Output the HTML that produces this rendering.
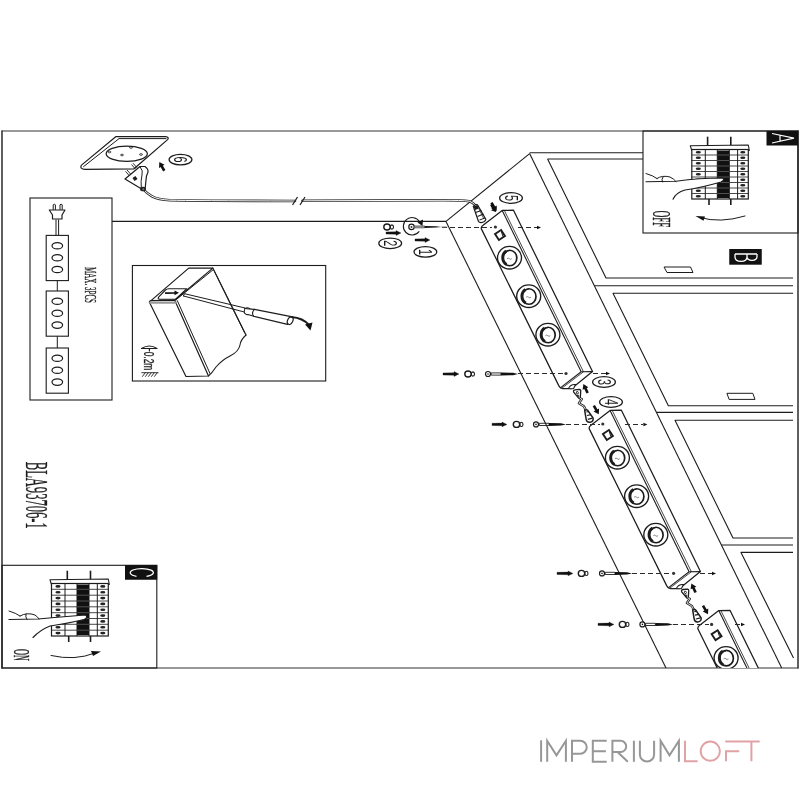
<!DOCTYPE html>
<html><head><meta charset="utf-8"><title>Installation diagram</title>
<style>
html,body{margin:0;padding:0;background:#fff;}
body{width:800px;height:800px;overflow:hidden;font-family:"Liberation Sans",sans-serif;}
svg{display:block;will-change:transform;}
</style></head>
<body>
<svg width="800" height="800" viewBox="0 0 800 800">
<defs><clipPath id="clipf"><rect x="0" y="0" width="800" height="668"/></clipPath></defs>
<rect x="0" y="0" width="800" height="800" fill="#fff"/>
<line x1="1.5" y1="131.0" x2="798.5" y2="131.0" stroke="#777" stroke-width="1.3" />
<line x1="1.5" y1="668.0" x2="798.5" y2="668.0" stroke="#777" stroke-width="1.3" />
<line x1="2.0" y1="130.5" x2="2.0" y2="668.5" stroke="#444" stroke-width="1.7" />
<line x1="798.0" y1="130.5" x2="798.0" y2="668.5" stroke="#444" stroke-width="1.7" />
<line x1="112.0" y1="221.4" x2="446.0" y2="221.4" stroke="#1c1c1c" stroke-width="1.1" />
<line x1="446.0" y1="221.4" x2="529.6" y2="153.6" stroke="#1c1c1c" stroke-width="1.1" />
<line x1="446.0" y1="221.4" x2="666.0" y2="668.0" stroke="#1c1c1c" stroke-width="1.1" />
<line x1="529.6" y1="153.6" x2="781.7" y2="668.0" stroke="#1c1c1c" stroke-width="1.1" />
<line x1="529.6" y1="152.8" x2="643.0" y2="152.8" stroke="#1c1c1c" stroke-width="1.1" />
<line x1="547.6" y1="159.0" x2="643.0" y2="159.0" stroke="#1c1c1c" stroke-width="1.1" />
<polyline points="547.6,159.0 606.0,278.0 793.0,278.0" stroke="#1c1c1c" stroke-width="1.1" fill="none" stroke-linejoin="round" />
<line x1="594.4" y1="285.8" x2="793.0" y2="285.8" stroke="#1c1c1c" stroke-width="1.1" />
<polyline points="793.0,293.2 613.0,293.2 668.4,405.7 793.0,405.7" stroke="#1c1c1c" stroke-width="1.1" fill="none" stroke-linejoin="round" />
<line x1="656.4" y1="412.4" x2="793.0" y2="412.4" stroke="#1c1c1c" stroke-width="1.1" />
<polyline points="793.0,420.3 675.0,420.3 733.0,538.0 793.0,538.0" stroke="#1c1c1c" stroke-width="1.1" fill="none" stroke-linejoin="round" />
<line x1="721.4" y1="545.0" x2="793.0" y2="545.0" stroke="#1c1c1c" stroke-width="1.1" />
<polyline points="793.0,552.4 741.0,552.4 793.5,658.0" stroke="#1c1c1c" stroke-width="1.1" fill="none" stroke-linejoin="round" />
<polygon points="664.0,267.0 690.5,267.0 693.0,272.5 667.0,272.5" stroke="#1c1c1c" stroke-width="1.0" fill="none" stroke-linejoin="round" />
<polygon points="726.9,393.3 752.8,393.3 755.0,399.4 729.1,399.4" stroke="#1c1c1c" stroke-width="1.0" fill="none" stroke-linejoin="round" />
<g>
<polygon points="481.0,226.7 502.2,210.4 513.5,210.2 592.5,371.6 571.3,387.9 560.0,388.1" stroke="none" stroke-width="0" fill="#fff" stroke-linejoin="round" />
<path d="M502.2,210.4 L483.4,224.9 Q480.4,227.0 481.5,229.1 L559.0,386.1 Q560.0,388.6 562.5,388.7 L571.3,388.7 L592.5,371.6 L513.5,210.2 L502.2,210.4" stroke="#1c1c1c" stroke-width="1.25" fill="none" stroke-linejoin="round" stroke-linecap="round" />
<line x1="581.2" y1="371.8" x2="592.5" y2="371.6" stroke="#1c1c1c" stroke-width="1.1" />
<line x1="502.2" y1="210.4" x2="581.2" y2="371.8" stroke="#1c1c1c" stroke-width="1.1" />
<line x1="560.0" y1="388.1" x2="581.2" y2="371.8" stroke="#1c1c1c" stroke-width="1.1" />
<line x1="504.5" y1="210.8" x2="583.5" y2="371.8" stroke="#1c1c1c" stroke-width="0.8" />
<line x1="561.6" y1="388.4" x2="583.5" y2="371.8" stroke="#1c1c1c" stroke-width="0.8" />
<path d="M568.5,388.5 Q570.5,384.0 575.5,384.5 L573.5,388.7 Z" fill="#fff" stroke="#1c1c1c" stroke-width="1.1"/>
<rect x="496.4" y="231.4" width="7.2" height="7.2" fill="#fff" stroke="#1c1c1c" stroke-width="1.9" transform="rotate(-33 500.0 235.0)"/>
<line x1="501.5" y1="232.0" x2="503.0" y2="236.5" stroke="#1c1c1c" stroke-width="1"/>
<ellipse cx="509.5" cy="257.7" rx="12" ry="11.3" fill="#fff" stroke="#1c1c1c" stroke-width="1.35"/>
<ellipse cx="509.8" cy="258.0" rx="7.0" ry="7.75" fill="none" stroke="#1c1c1c" stroke-width="1.7"/>
<path d="M506.5,264.5 A7,7.75 0 0 1 506.3,250.9" fill="none" stroke="#1c1c1c" stroke-width="3.0"/>
<path d="M505.0,253.2 q2,-3 4.5,-2.5" fill="none" stroke="#1c1c1c" stroke-width="1.2"/>
<path d="M507.0,258.7 q1.2,-1.2 2.4,0 q1.2,1.2 2.4,0" fill="none" stroke="#666" stroke-width="0.8"/>
<ellipse cx="528.7" cy="296.2" rx="12" ry="11.3" fill="#fff" stroke="#1c1c1c" stroke-width="1.35"/>
<ellipse cx="529.0" cy="296.5" rx="7.0" ry="7.75" fill="none" stroke="#1c1c1c" stroke-width="1.7"/>
<path d="M525.7,303.0 A7,7.75 0 0 1 525.5,289.4" fill="none" stroke="#1c1c1c" stroke-width="3.0"/>
<path d="M524.2,291.7 q2,-3 4.5,-2.5" fill="none" stroke="#1c1c1c" stroke-width="1.2"/>
<path d="M526.2,297.2 q1.2,-1.2 2.4,0 q1.2,1.2 2.4,0" fill="none" stroke="#666" stroke-width="0.8"/>
<ellipse cx="547.9" cy="334.7" rx="12" ry="11.3" fill="#fff" stroke="#1c1c1c" stroke-width="1.35"/>
<ellipse cx="548.2" cy="335.0" rx="7.0" ry="7.75" fill="none" stroke="#1c1c1c" stroke-width="1.7"/>
<path d="M544.9,341.5 A7,7.75 0 0 1 544.7,327.9" fill="none" stroke="#1c1c1c" stroke-width="3.0"/>
<path d="M543.4,330.2 q2,-3 4.5,-2.5" fill="none" stroke="#1c1c1c" stroke-width="1.2"/>
<path d="M545.4,335.7 q1.2,-1.2 2.4,0 q1.2,1.2 2.4,0" fill="none" stroke="#666" stroke-width="0.8"/>
</g>
<g>
<polygon points="588.9,426.7 610.1,410.4 621.4,410.2 700.4,571.6 679.2,587.9 667.9,588.1" stroke="none" stroke-width="0" fill="#fff" stroke-linejoin="round" />
<path d="M610.1,410.4 L591.3,424.9 Q588.3,427.0 589.4,429.1 L666.9,586.1 Q667.9,588.6 670.4,588.7 L679.2,588.7 L700.4,571.6 L621.4,410.2 L610.1,410.4" stroke="#1c1c1c" stroke-width="1.25" fill="none" stroke-linejoin="round" stroke-linecap="round" />
<line x1="689.1" y1="571.8" x2="700.4" y2="571.6" stroke="#1c1c1c" stroke-width="1.1" />
<line x1="610.1" y1="410.4" x2="689.1" y2="571.8" stroke="#1c1c1c" stroke-width="1.1" />
<line x1="667.9" y1="588.1" x2="689.1" y2="571.8" stroke="#1c1c1c" stroke-width="1.1" />
<line x1="612.4" y1="410.8" x2="691.4" y2="571.8" stroke="#1c1c1c" stroke-width="0.8" />
<line x1="669.5" y1="588.4" x2="691.4" y2="571.8" stroke="#1c1c1c" stroke-width="0.8" />
<path d="M676.4,588.5 Q678.4,584.0 683.4,584.5 L681.4,588.7 Z" fill="#fff" stroke="#1c1c1c" stroke-width="1.1"/>
<rect x="604.3" y="431.4" width="7.2" height="7.2" fill="#fff" stroke="#1c1c1c" stroke-width="1.9" transform="rotate(-33 607.9 435.0)"/>
<line x1="609.4" y1="432.0" x2="610.9" y2="436.5" stroke="#1c1c1c" stroke-width="1"/>
<ellipse cx="617.4" cy="457.7" rx="12" ry="11.3" fill="#fff" stroke="#1c1c1c" stroke-width="1.35"/>
<ellipse cx="617.7" cy="458.0" rx="7.0" ry="7.75" fill="none" stroke="#1c1c1c" stroke-width="1.7"/>
<path d="M614.4,464.5 A7,7.75 0 0 1 614.2,450.9" fill="none" stroke="#1c1c1c" stroke-width="3.0"/>
<path d="M612.9,453.2 q2,-3 4.5,-2.5" fill="none" stroke="#1c1c1c" stroke-width="1.2"/>
<path d="M614.9,458.7 q1.2,-1.2 2.4,0 q1.2,1.2 2.4,0" fill="none" stroke="#666" stroke-width="0.8"/>
<ellipse cx="636.6" cy="496.2" rx="12" ry="11.3" fill="#fff" stroke="#1c1c1c" stroke-width="1.35"/>
<ellipse cx="636.9" cy="496.5" rx="7.0" ry="7.75" fill="none" stroke="#1c1c1c" stroke-width="1.7"/>
<path d="M633.6,503.0 A7,7.75 0 0 1 633.4,489.4" fill="none" stroke="#1c1c1c" stroke-width="3.0"/>
<path d="M632.1,491.7 q2,-3 4.5,-2.5" fill="none" stroke="#1c1c1c" stroke-width="1.2"/>
<path d="M634.1,497.2 q1.2,-1.2 2.4,0 q1.2,1.2 2.4,0" fill="none" stroke="#666" stroke-width="0.8"/>
<ellipse cx="655.8" cy="534.7" rx="12" ry="11.3" fill="#fff" stroke="#1c1c1c" stroke-width="1.35"/>
<ellipse cx="656.1" cy="535.0" rx="7.0" ry="7.75" fill="none" stroke="#1c1c1c" stroke-width="1.7"/>
<path d="M652.8,541.5 A7,7.75 0 0 1 652.6,527.9" fill="none" stroke="#1c1c1c" stroke-width="3.0"/>
<path d="M651.3,530.2 q2,-3 4.5,-2.5" fill="none" stroke="#1c1c1c" stroke-width="1.2"/>
<path d="M653.3,535.7 q1.2,-1.2 2.4,0 q1.2,1.2 2.4,0" fill="none" stroke="#666" stroke-width="0.8"/>
</g>
<g clip-path="url(#clipf)">
<polygon points="697.6,626.9 718.8,610.6 730.1,610.4 809.1,771.8 787.9,788.1 776.6,788.3" stroke="none" stroke-width="0" fill="#fff" stroke-linejoin="round" />
<path d="M718.8,610.6 L700.0,625.1 Q697.0,627.2 698.1,629.3 L775.6,786.3 Q776.6,788.8 779.1,788.9 L787.9,788.9 L809.1,771.8 L730.1,610.4 L718.8,610.6" stroke="#1c1c1c" stroke-width="1.25" fill="none" stroke-linejoin="round" stroke-linecap="round" />
<line x1="797.8" y1="772.0" x2="809.1" y2="771.8" stroke="#1c1c1c" stroke-width="1.1" />
<line x1="718.8" y1="610.6" x2="797.8" y2="772.0" stroke="#1c1c1c" stroke-width="1.1" />
<line x1="776.6" y1="788.3" x2="797.8" y2="772.0" stroke="#1c1c1c" stroke-width="1.1" />
<line x1="721.1" y1="611.0" x2="800.1" y2="772.0" stroke="#1c1c1c" stroke-width="0.8" />
<line x1="778.2" y1="788.6" x2="800.1" y2="772.0" stroke="#1c1c1c" stroke-width="0.8" />
<path d="M785.1,788.7 Q787.1,784.2 792.1,784.7 L790.1,788.9 Z" fill="#fff" stroke="#1c1c1c" stroke-width="1.1"/>
<rect x="713.0" y="631.6" width="7.2" height="7.2" fill="#fff" stroke="#1c1c1c" stroke-width="1.9" transform="rotate(-33 716.6 635.2)"/>
<line x1="718.1" y1="632.2" x2="719.6" y2="636.7" stroke="#1c1c1c" stroke-width="1"/>
<ellipse cx="726.1" cy="657.9" rx="12" ry="11.3" fill="#fff" stroke="#1c1c1c" stroke-width="1.35"/>
<ellipse cx="726.4" cy="658.2" rx="7.0" ry="7.75" fill="none" stroke="#1c1c1c" stroke-width="1.7"/>
<path d="M723.1,664.7 A7,7.75 0 0 1 722.9,651.1" fill="none" stroke="#1c1c1c" stroke-width="3.0"/>
<path d="M721.6,653.4 q2,-3 4.5,-2.5" fill="none" stroke="#1c1c1c" stroke-width="1.2"/>
<path d="M723.6,658.9 q1.2,-1.2 2.4,0 q1.2,1.2 2.4,0" fill="none" stroke="#666" stroke-width="0.8"/>
<ellipse cx="745.3" cy="696.4" rx="12" ry="11.3" fill="#fff" stroke="#1c1c1c" stroke-width="1.35"/>
<ellipse cx="745.6" cy="696.7" rx="7.0" ry="7.75" fill="none" stroke="#1c1c1c" stroke-width="1.7"/>
<path d="M742.3,703.2 A7,7.75 0 0 1 742.1,689.6" fill="none" stroke="#1c1c1c" stroke-width="3.0"/>
<path d="M740.8,691.9 q2,-3 4.5,-2.5" fill="none" stroke="#1c1c1c" stroke-width="1.2"/>
<path d="M742.8,697.4 q1.2,-1.2 2.4,0 q1.2,1.2 2.4,0" fill="none" stroke="#666" stroke-width="0.8"/>
<ellipse cx="764.5" cy="734.9" rx="12" ry="11.3" fill="#fff" stroke="#1c1c1c" stroke-width="1.35"/>
<ellipse cx="764.8" cy="735.2" rx="7.0" ry="7.75" fill="none" stroke="#1c1c1c" stroke-width="1.7"/>
<path d="M761.5,741.7 A7,7.75 0 0 1 761.3,728.1" fill="none" stroke="#1c1c1c" stroke-width="3.0"/>
<path d="M760.0,730.4 q2,-3 4.5,-2.5" fill="none" stroke="#1c1c1c" stroke-width="1.2"/>
<path d="M762.0,735.9 q1.2,-1.2 2.4,0 q1.2,1.2 2.4,0" fill="none" stroke="#666" stroke-width="0.8"/>
</g>
<line x1="442.0" y1="227.5" x2="492.0" y2="227.5" stroke="#2a2a2a" stroke-width="1.0" stroke-dasharray="5,3"/>
<circle cx="495.4" cy="227.0" r="1.6" fill="#333"/>
<line x1="518.0" y1="227.5" x2="537.0" y2="227.5" stroke="#2a2a2a" stroke-width="1.0" stroke-dasharray="5,3"/>
<polygon points="541.0,227.5 537.0,225.8 537.0,229.2" stroke="none" stroke-width="0" fill="#111" stroke-linejoin="round" />
<circle cx="411.5" cy="226.9" r="2.7" fill="#fff" stroke="#1c1c1c" stroke-width="1.2"/>
<circle cx="411.5" cy="226.9" r="1.0" fill="#333"/>
<polygon points="414.6,225.9 424.6,225.9 424.6,227.9 414.6,227.9" stroke="#555" stroke-width="0.7" fill="#999" stroke-linejoin="round" />
<polygon points="424.6,225.9 436.0,226.2 441.5,226.9 436.0,227.6 424.6,227.9" stroke="none" stroke-width="0" fill="#111" stroke-linejoin="round" />
<line x1="441.5" y1="226.9" x2="447.5" y2="226.9" stroke="#888" stroke-width="0.9" />
<path d="M419,231.7 A8.75,8.75 0 1 1 419.6,221.8" stroke="#1c1c1c" stroke-width="1.1" fill="none" stroke-linejoin="round" stroke-linecap="round" />
<polygon points="422.5,226 423,219.5 417.5,222.5" fill="#111"/>
<ellipse cx="391.9" cy="227.0" rx="1.6" ry="2.1" fill="#fff" stroke="#1c1c1c" stroke-width="1.1"/>
<ellipse cx="387.0" cy="227.0" rx="3.2" ry="3.0" fill="#fff" stroke="#1c1c1c" stroke-width="1.4"/>
<polygon points="386.0,231.9 396.0,231.7 396.0,230.6 401.0,233.0 396.0,235.4 396.0,234.3 386.0,234.1" stroke="#111" stroke-width="0.3" fill="#111" stroke-linejoin="round" />
<polygon points="415.0,238.9 425.0,238.7 425.0,237.6 430.0,240.0 425.0,242.4 425.0,241.3 415.0,241.1" stroke="#111" stroke-width="0.3" fill="#111" stroke-linejoin="round" />
<line x1="518.0" y1="373.5" x2="564.0" y2="373.5" stroke="#2a2a2a" stroke-width="1.0" stroke-dasharray="5,3"/>
<circle cx="566.0" cy="373.5" r="1.6" fill="#333"/>
<line x1="593.0" y1="373.5" x2="606.0" y2="373.5" stroke="#2a2a2a" stroke-width="1.0" stroke-dasharray="5,3"/>
<polygon points="610.0,373.5 606.0,371.8 606.0,375.2" stroke="none" stroke-width="0" fill="#111" stroke-linejoin="round" />
<polygon points="443.0,372.9 454.0,372.7 454.0,371.6 459.0,374.0 454.0,376.4 454.0,375.3 443.0,375.1" stroke="#111" stroke-width="0.3" fill="#111" stroke-linejoin="round" />
<ellipse cx="472.9" cy="374.0" rx="1.6" ry="2.1" fill="#fff" stroke="#1c1c1c" stroke-width="1.1"/>
<ellipse cx="468.0" cy="374.0" rx="3.2" ry="3.0" fill="#fff" stroke="#1c1c1c" stroke-width="1.4"/>
<circle cx="488.0" cy="374.0" r="2.5" fill="#fff" stroke="#1c1c1c" stroke-width="1.2"/>
<circle cx="488.0" cy="374.0" r="0.8" fill="#1c1c1c"/>
<polygon points="491.2,372.9 501.0,372.9 501.0,375.1 491.2,375.1" stroke="#1c1c1c" stroke-width="0.9" fill="none" stroke-linejoin="round" />
<polygon points="501.0,372.5 513.0,372.8 518.0,374.0 513.0,375.2 501.0,375.5" stroke="none" stroke-width="0" fill="#111" stroke-linejoin="round" />
<line x1="566.0" y1="424.5" x2="600.0" y2="424.5" stroke="#2a2a2a" stroke-width="1.0" stroke-dasharray="5,3"/>
<circle cx="602.8" cy="424.0" r="1.6" fill="#333"/>
<line x1="625.0" y1="424.5" x2="643.0" y2="424.5" stroke="#2a2a2a" stroke-width="1.0" stroke-dasharray="5,3"/>
<polygon points="647.4,424.5 643.4,422.8 643.4,426.2" stroke="none" stroke-width="0" fill="#111" stroke-linejoin="round" />
<polygon points="492.0,423.3 502.0,423.1 502.0,422.0 507.0,424.4 502.0,426.8 502.0,425.7 492.0,425.5" stroke="#111" stroke-width="0.3" fill="#111" stroke-linejoin="round" />
<ellipse cx="521.4" cy="424.4" rx="1.6" ry="2.1" fill="#fff" stroke="#1c1c1c" stroke-width="1.1"/>
<ellipse cx="516.5" cy="424.4" rx="3.2" ry="3.0" fill="#fff" stroke="#1c1c1c" stroke-width="1.4"/>
<circle cx="536.0" cy="424.4" r="2.5" fill="#fff" stroke="#1c1c1c" stroke-width="1.2"/>
<circle cx="536.0" cy="424.4" r="0.8" fill="#1c1c1c"/>
<polygon points="539.2,423.3 549.0,423.3 549.0,425.5 539.2,425.5" stroke="#1c1c1c" stroke-width="0.9" fill="none" stroke-linejoin="round" />
<polygon points="549.0,422.9 561.0,423.2 566.0,424.4 561.0,425.6 549.0,425.9" stroke="none" stroke-width="0" fill="#111" stroke-linejoin="round" />
<line x1="632.0" y1="573.5" x2="671.0" y2="573.5" stroke="#2a2a2a" stroke-width="1.0" stroke-dasharray="5,3"/>
<circle cx="673.6" cy="573.3" r="1.6" fill="#333"/>
<line x1="700.0" y1="573.5" x2="712.0" y2="573.5" stroke="#2a2a2a" stroke-width="1.0" stroke-dasharray="5,3"/>
<polygon points="716.0,573.5 712.0,571.8 712.0,575.2" stroke="none" stroke-width="0" fill="#111" stroke-linejoin="round" />
<polygon points="557.0,572.3 568.0,572.1 568.0,571.0 573.0,573.4 568.0,575.8 568.0,574.7 557.0,574.5" stroke="#111" stroke-width="0.3" fill="#111" stroke-linejoin="round" />
<ellipse cx="586.4" cy="573.4" rx="1.6" ry="2.1" fill="#fff" stroke="#1c1c1c" stroke-width="1.1"/>
<ellipse cx="581.5" cy="573.4" rx="3.2" ry="3.0" fill="#fff" stroke="#1c1c1c" stroke-width="1.4"/>
<circle cx="602.0" cy="573.4" r="2.5" fill="#fff" stroke="#1c1c1c" stroke-width="1.2"/>
<circle cx="602.0" cy="573.4" r="0.8" fill="#1c1c1c"/>
<polygon points="605.2,572.3 615.0,572.3 615.0,574.5 605.2,574.5" stroke="#1c1c1c" stroke-width="0.9" fill="none" stroke-linejoin="round" />
<polygon points="615.0,571.9 627.0,572.2 632.0,573.4 627.0,574.6 615.0,574.9" stroke="none" stroke-width="0" fill="#111" stroke-linejoin="round" />
<line x1="673.0" y1="624.5" x2="709.0" y2="624.5" stroke="#2a2a2a" stroke-width="1.0" stroke-dasharray="5,3"/>
<circle cx="711.6" cy="624.4" r="1.6" fill="#333"/>
<line x1="735.0" y1="624.5" x2="741.0" y2="624.5" stroke="#2a2a2a" stroke-width="1.0" stroke-dasharray="5,3"/>
<polygon points="745.0,624.5 741.0,622.8 741.0,626.2" stroke="none" stroke-width="0" fill="#111" stroke-linejoin="round" />
<polygon points="598.0,623.3 609.0,623.1 609.0,622.0 614.0,624.4 609.0,626.8 609.0,625.7 598.0,625.5" stroke="#111" stroke-width="0.3" fill="#111" stroke-linejoin="round" />
<ellipse cx="627.4" cy="624.4" rx="1.6" ry="2.1" fill="#fff" stroke="#1c1c1c" stroke-width="1.1"/>
<ellipse cx="622.5" cy="624.4" rx="3.2" ry="3.0" fill="#fff" stroke="#1c1c1c" stroke-width="1.4"/>
<circle cx="642.4" cy="624.4" r="2.5" fill="#fff" stroke="#1c1c1c" stroke-width="1.2"/>
<circle cx="642.4" cy="624.4" r="0.8" fill="#1c1c1c"/>
<polygon points="645.6,623.3 655.4,623.3 655.4,625.5 645.6,625.5" stroke="#1c1c1c" stroke-width="0.9" fill="none" stroke-linejoin="round" />
<polygon points="655.4,622.9 668.0,623.2 673.0,624.4 668.0,625.6 655.4,625.9" stroke="none" stroke-width="0" fill="#111" stroke-linejoin="round" />
<ellipse cx="180.5" cy="159.6" rx="11.4" ry="5.3" fill="#fff" stroke="#1c1c1c" stroke-width="1.25"/>
<text x="0" y="0" transform="translate(180.5,159.6) rotate(90) scale(0.62,1)" font-family="Liberation Sans, sans-serif" font-size="17.5" text-anchor="middle" dominant-baseline="central" fill="#1c1c1c">6</text>
<ellipse cx="390.2" cy="243.3" rx="11.4" ry="5.3" fill="#fff" stroke="#1c1c1c" stroke-width="1.25"/>
<text x="0" y="0" transform="translate(390.2,243.3) rotate(90) scale(0.62,1)" font-family="Liberation Sans, sans-serif" font-size="17.5" text-anchor="middle" dominant-baseline="central" fill="#1c1c1c">2</text>
<ellipse cx="425.4" cy="251.9" rx="11.4" ry="5.3" fill="#fff" stroke="#1c1c1c" stroke-width="1.25"/>
<text x="0" y="0" transform="translate(425.4,251.9) rotate(90) scale(0.62,1)" font-family="Liberation Sans, sans-serif" font-size="17.5" text-anchor="middle" dominant-baseline="central" fill="#1c1c1c">1</text>
<ellipse cx="511" cy="198" rx="11.4" ry="5.3" fill="#fff" stroke="#1c1c1c" stroke-width="1.25"/>
<text x="0" y="0" transform="translate(511,198) rotate(90) scale(0.62,1)" font-family="Liberation Sans, sans-serif" font-size="17.5" text-anchor="middle" dominant-baseline="central" fill="#1c1c1c">5</text>
<ellipse cx="604" cy="382" rx="11.4" ry="5.3" fill="#fff" stroke="#1c1c1c" stroke-width="1.25"/>
<text x="0" y="0" transform="translate(604,382) rotate(90) scale(0.62,1)" font-family="Liberation Sans, sans-serif" font-size="17.5" text-anchor="middle" dominant-baseline="central" fill="#1c1c1c">3</text>
<ellipse cx="611" cy="402" rx="11.4" ry="5.3" fill="#fff" stroke="#1c1c1c" stroke-width="1.25"/>
<text x="0" y="0" transform="translate(611,402) rotate(90) scale(0.62,1)" font-family="Liberation Sans, sans-serif" font-size="17.5" text-anchor="middle" dominant-baseline="central" fill="#1c1c1c">4</text>
<g transform="translate(161.8,166.4) rotate(-120)"><rect x="-5" y="-1.3" width="6" height="2.6" fill="#111"/><polygon points="5,0 0,-3.2 0,3.2" fill="#111"/></g>
<g transform="translate(494,207) rotate(60)"><rect x="-5" y="-1.3" width="6" height="2.6" fill="#111"/><polygon points="5,0 0,-3.2 0,3.2" fill="#111"/></g>
<g transform="translate(585.5,388.5) rotate(-115)"><rect x="-5" y="-1.3" width="6" height="2.6" fill="#111"/><polygon points="5,0 0,-3.2 0,3.2" fill="#111"/></g>
<g transform="translate(596.3,410) rotate(60)"><rect x="-5" y="-1.3" width="6" height="2.6" fill="#111"/><polygon points="5,0 0,-3.2 0,3.2" fill="#111"/></g>
<g transform="translate(693.5,588) rotate(-115)"><rect x="-5" y="-1.3" width="6" height="2.6" fill="#111"/><polygon points="5,0 0,-3.2 0,3.2" fill="#111"/></g>
<g transform="translate(705.5,610) rotate(60)"><rect x="-5" y="-1.3" width="6" height="2.6" fill="#111"/><polygon points="5,0 0,-3.2 0,3.2" fill="#111"/></g>
<g transform="translate(573.5,391.5)">
<path d="M0.2,0.6 Q-0.6,-1.2 1.6,-1.7 L5.8,-2.1 Q7.6,-2 7.2,0.3 L6.8,6.2 Q6.4,7.4 5.3,6.8 Z" fill="#fff" stroke="#1c1c1c" stroke-width="1.3"/>
<path d="M3,0.2 Q4.8,-0.5 5,1.2 Q5,2.6 3.6,2.4 Q2.2,2 3,0.2 Z M4,3.6 Q5.6,3.4 5.4,5 Q4.6,5.8 4,4.6 Z" fill="none" stroke="#1c1c1c" stroke-width="0.9"/>
<path d="M6.3,6.8 L8.3,7.6 L5.4,11.8 L10.4,14.8 L12.3,18.6" stroke="#222" stroke-width="2.4" fill="none" stroke-linejoin="round"/>
<path d="M6.3,6.8 L8.3,7.6 L5.4,11.8 L10.4,14.8 L12.3,18.6" stroke="#fff" stroke-width="0.8" fill="none" stroke-linejoin="round"/>
<path d="M11.2,19 Q12.5,17.6 14,18.6 L19.6,26.6 Q20.2,30.2 16.3,30.7 Q13.2,31 12.7,28 Z" fill="#fff" stroke="#1c1c1c" stroke-width="1.5"/>
<path d="M12.8,20.5 L15.5,20 M13.5,24 L17.5,23.2 M14.3,27.8 L19,26.6" stroke="#1c1c1c" stroke-width="1.2" fill="none"/>
</g>
<g transform="translate(681.5,591.2)">
<path d="M0.2,0.6 Q-0.6,-1.2 1.6,-1.7 L5.8,-2.1 Q7.6,-2 7.2,0.3 L6.8,6.2 Q6.4,7.4 5.3,6.8 Z" fill="#fff" stroke="#1c1c1c" stroke-width="1.3"/>
<path d="M3,0.2 Q4.8,-0.5 5,1.2 Q5,2.6 3.6,2.4 Q2.2,2 3,0.2 Z M4,3.6 Q5.6,3.4 5.4,5 Q4.6,5.8 4,4.6 Z" fill="none" stroke="#1c1c1c" stroke-width="0.9"/>
<path d="M6.3,6.8 L8.3,7.6 L5.4,11.8 L10.4,14.8 L12.3,18.6" stroke="#222" stroke-width="2.4" fill="none" stroke-linejoin="round"/>
<path d="M6.3,6.8 L8.3,7.6 L5.4,11.8 L10.4,14.8 L12.3,18.6" stroke="#fff" stroke-width="0.8" fill="none" stroke-linejoin="round"/>
<path d="M11.2,19 Q12.5,17.6 14,18.6 L19.6,26.6 Q20.2,30.2 16.3,30.7 Q13.2,31 12.7,28 Z" fill="#fff" stroke="#1c1c1c" stroke-width="1.5"/>
<path d="M12.8,20.5 L15.5,20 M13.5,24 L17.5,23.2 M14.3,27.8 L19,26.6" stroke="#1c1c1c" stroke-width="1.2" fill="none"/>
</g>
<path d="M302.5,200.8 L440,200.3 Q462,200.2 469.4,201.2 Q473,202.5 475.5,205.5" stroke="#2a2a2a" stroke-width="2.6" fill="none" stroke-linejoin="round" stroke-linecap="round" />
<path d="M302.5,200.8 L440,200.3 Q462,200.2 469.4,201.2 Q473,202.5 475.5,205.5" stroke="#fff" stroke-width="1.0" fill="none" stroke-linejoin="round" stroke-linecap="round" />
<path d="M473.3,206.3 Q475,204.3 477.5,204.8 L485.8,219.3 Q485,222 481,222.6 Q479,222.5 478.5,221.5 Z" fill="#fff" stroke="#1c1c1c" stroke-width="1.2"/>
<path d="M473.6,206.5 L477.3,205 L479,208.5 L475,210 Z" fill="#1c1c1c"/>
<line x1="475.5" y1="212.5" x2="481.5" y2="210.5" stroke="#1c1c1c" stroke-width="1.2" />
<line x1="477.5" y1="216.5" x2="483.5" y2="214.0" stroke="#1c1c1c" stroke-width="1.2" />
<line x1="479.5" y1="220.0" x2="485.0" y2="218.0" stroke="#1c1c1c" stroke-width="1.0" />
<line x1="479.0" y1="209.0" x2="484.0" y2="219.0" stroke="#1c1c1c" stroke-width="0.8" />
<g transform="translate(493.6,208.2) rotate(60)"><polygon points="-4.5,-1.4 0.5,-1.6 0.5,-3.3 4.5,0 0.5,3.3 0.5,1.6 -4.5,1.4" fill="#111"/></g>
<path d="M143,189 Q147,193.5 152,196.3 Q158,199.5 170,200.2 Q190,200.7 295,201" stroke="#2a2a2a" stroke-width="2.6" fill="none" stroke-linejoin="round" stroke-linecap="round" />
<path d="M143,189 Q147,193.5 152,196.3 Q158,199.5 170,200.2 Q190,200.7 295,201" stroke="#fff" stroke-width="1.0" fill="none" stroke-linejoin="round" stroke-linecap="round" />
<line x1="292.5" y1="205.0" x2="297.5" y2="197.0" stroke="#1c1c1c" stroke-width="1.2" />
<line x1="300.0" y1="205.0" x2="305.0" y2="197.0" stroke="#1c1c1c" stroke-width="1.2" />
<path d="M116,136.5 L165.6,136.6 Q169.5,137 167.6,139.6 L134,168.8 L85,169.3 Q79.5,169 81.2,165.4 Z" stroke="#1c1c1c" stroke-width="1.2" fill="none" stroke-linejoin="round" stroke-linecap="round" />
<path d="M83.6,166.6 L119,138.6 L166,138.6" stroke="#1c1c1c" stroke-width="1.0" fill="none" stroke-linejoin="round" stroke-linecap="round" />
<ellipse cx="126.75" cy="153.75" rx="20.6" ry="7.6" fill="none" stroke="#1c1c1c" stroke-width="1.2"/>
<ellipse cx="131" cy="147.5" rx="1.5" ry="0.8" fill="none" stroke="#1c1c1c" stroke-width="0.8"/>
<ellipse cx="122" cy="155" rx="1.5" ry="0.8" fill="none" stroke="#1c1c1c" stroke-width="0.8"/>
<ellipse cx="109.5" cy="152" rx="1.5" ry="0.8" fill="none" stroke="#1c1c1c" stroke-width="0.8"/>
<ellipse cx="141" cy="154.5" rx="1.5" ry="0.8" fill="none" stroke="#1c1c1c" stroke-width="0.8"/>
<path d="M127.3,170.3 L130.8,174.3 M125.8,171.6 L129.2,175.6" stroke="#1c1c1c" stroke-width="0.9" fill="none" stroke-linejoin="round" stroke-linecap="round" />
<path d="M133.3,163.5 L136.8,167.5 M131.8,164.8 L135.2,168.8" stroke="#1c1c1c" stroke-width="0.9" fill="none" stroke-linejoin="round" stroke-linecap="round" />
<path d="M125,179 L140,166.5 L145,166.5 Q148.5,169 148,172 Q146,176 146,180 L145.2,188 L140,188 Z" stroke="#1c1c1c" stroke-width="1.2" fill="#fff" stroke-linejoin="round" stroke-linecap="round" />
<path d="M140,166.5 Q143.5,171 142,175 Q140.5,181 141.3,188" stroke="#1c1c1c" stroke-width="1.0" fill="none" stroke-linejoin="round" stroke-linecap="round" />
<rect x="133.2" y="176.7" width="3.6" height="3.6" fill="#1c1c1c" transform="rotate(-35 135 178.5)"/>
<ellipse cx="143" cy="189" rx="3" ry="2.3" fill="#222"/>
<circle cx="143.3" cy="189.3" r="1" fill="#777"/>
<rect x="30" y="198" width="82" height="202" fill="none" stroke="#1c1c1c" stroke-width="1.1"/>
<path d="M53.2,209.5 L53.2,204.8 Q54.3,203.6 55.4,204.8 L55.4,209.5 M60,209.5 L60,204.8 Q61.1,203.6 62.2,204.8 L62.2,209.5" stroke="#1c1c1c" stroke-width="1.0" fill="none" stroke-linejoin="round" stroke-linecap="round" />
<path d="M49.3,210 L65,210 L62,215 L62,219 L52.5,219 L52.5,215 Z" stroke="#1c1c1c" stroke-width="1.2" fill="none" stroke-linejoin="round" stroke-linecap="round" />
<line x1="56.0" y1="219.5" x2="56.0" y2="235.4" stroke="#1c1c1c" stroke-width="1.0" />
<line x1="58.6" y1="219.5" x2="58.6" y2="235.4" stroke="#1c1c1c" stroke-width="1.0" />
<rect x="46.2" y="235.4" width="22.2" height="45.2" fill="none" stroke="#1c1c1c" stroke-width="1.1"/>
<ellipse cx="57.3" cy="245.7" rx="5.3" ry="3.2" fill="none" stroke="#1c1c1c" stroke-width="1.25"/>
<ellipse cx="57.3" cy="257.7" rx="5.3" ry="3.2" fill="none" stroke="#1c1c1c" stroke-width="1.25"/>
<ellipse cx="57.3" cy="269.5" rx="5.3" ry="3.2" fill="none" stroke="#1c1c1c" stroke-width="1.25"/>
<rect x="46.2" y="291" width="22.2" height="45.2" fill="none" stroke="#1c1c1c" stroke-width="1.1"/>
<ellipse cx="57.3" cy="301.3" rx="5.3" ry="3.2" fill="none" stroke="#1c1c1c" stroke-width="1.25"/>
<ellipse cx="57.3" cy="313.3" rx="5.3" ry="3.2" fill="none" stroke="#1c1c1c" stroke-width="1.25"/>
<ellipse cx="57.3" cy="325.1" rx="5.3" ry="3.2" fill="none" stroke="#1c1c1c" stroke-width="1.25"/>
<rect x="46.2" y="348" width="22.2" height="45.2" fill="none" stroke="#1c1c1c" stroke-width="1.1"/>
<ellipse cx="57.3" cy="358.3" rx="5.3" ry="3.2" fill="none" stroke="#1c1c1c" stroke-width="1.25"/>
<ellipse cx="57.3" cy="370.3" rx="5.3" ry="3.2" fill="none" stroke="#1c1c1c" stroke-width="1.25"/>
<ellipse cx="57.3" cy="382.1" rx="5.3" ry="3.2" fill="none" stroke="#1c1c1c" stroke-width="1.25"/>
<line x1="57.3" y1="280.6" x2="57.3" y2="291.0" stroke="#1c1c1c" stroke-width="1.0" />
<line x1="57.3" y1="336.2" x2="57.3" y2="348.0" stroke="#1c1c1c" stroke-width="1.0" />
<text transform="translate(85,267) rotate(90)" font-family="Liberation Serif, serif" font-size="17" textLength="36" lengthAdjust="spacingAndGlyphs" fill="#1c1c1c" stroke="#1c1c1c" stroke-width="0.35">MAX. 3PCS</text>
<rect x="132.4" y="265.5" width="193.3" height="115.5" fill="none" stroke="#1c1c1c" stroke-width="1.1"/>
<path d="M151,300.6 Q148.5,301.5 149.8,303 L186,376.5 L208.5,376 L174.75,300.2 Z" stroke="#1c1c1c" stroke-width="1.2" fill="#fff" stroke-linejoin="round" stroke-linecap="round" />
<path d="M151,300.6 L188.75,268.1 L212.8,268.1 L174.75,300.2" stroke="#1c1c1c" stroke-width="1.2" fill="none" stroke-linejoin="round" stroke-linecap="round" />
<path d="M150.2,302.7 L176,302.7" stroke="#999" stroke-width="2.2" fill="none" stroke-linejoin="round" stroke-linecap="round" />
<path d="M176.3,299.5 L213.6,269.4" stroke="#1c1c1c" stroke-width="1.0" fill="none" stroke-linejoin="round" stroke-linecap="round" />
<path d="M177.3,300.6 L210,373.5" stroke="#1c1c1c" stroke-width="1.0" fill="none" stroke-linejoin="round" stroke-linecap="round" />
<path d="M212.8,268.1 L246,335" stroke="#1c1c1c" stroke-width="1.2" fill="none" stroke-linejoin="round" stroke-linecap="round" />
<path d="M214,270.5 L244.7,333" stroke="#1c1c1c" stroke-width="0.9" fill="none" stroke-linejoin="round" stroke-linecap="round" />
<path d="M246,335 Q240.5,340 240,345 Q238.5,352 230,356 Q222,360 216,367 Q212,373 208.5,376" stroke="#1c1c1c" stroke-width="1.1" fill="none" stroke-linejoin="round" stroke-linecap="round" />
<path d="M168.6,288.7 L186.8,288.7 L175.6,299.2 L160,299.2 Q157,299 158.8,296.8 L165.5,290 Q166.8,288.8 168.6,288.7 Z" stroke="#1c1c1c" stroke-width="1.1" fill="none" stroke-linejoin="round" stroke-linecap="round" />
<polygon points="165.1,292.2 174.5,292.2 174.5,290.5 179,292.8 174.5,295.2 174.5,293.8 165.1,294" fill="#111"/>
<path d="M185,293.8 L245,308 M183.5,296 L243.5,311.8" stroke="#1c1c1c" stroke-width="1.0" fill="none" stroke-linejoin="round" stroke-linecap="round" />
<path d="M185,293.8 Q182.5,294.5 183.5,296" stroke="#1c1c1c" stroke-width="1.0" fill="none" stroke-linejoin="round" stroke-linecap="round" />
<ellipse cx="247.5" cy="311.2" rx="3.2" ry="3.4" fill="#fff" stroke="#1c1c1c" stroke-width="1.1" transform="rotate(15 247.5 311.2)"/>
<path d="M244.5,308.5 L254.4,309.4 L292.5,316.9 L287.5,324.4 L253.75,316.25 L248,314.5" stroke="#1c1c1c" stroke-width="1.2" fill="#fff" stroke-linejoin="round" stroke-linecap="round" />
<path d="M254.4,309.4 Q251,313 253.75,316.25" stroke="#1c1c1c" stroke-width="1.1" fill="none" stroke-linejoin="round" stroke-linecap="round" />
<ellipse cx="290.2" cy="320.7" rx="2.6" ry="4" fill="#fff" stroke="#1c1c1c" stroke-width="1.2" transform="rotate(25 290.2 320.7)"/>
<path d="M291.5,317 Q303,318 309,325" stroke="#1c1c1c" stroke-width="2.2" fill="none" stroke-linejoin="round" stroke-linecap="round" />
<polygon points="310.5,330.5 305,324.5 312.5,322.5" fill="#111"/>
<text transform="translate(143.9,351.7) rotate(90)" font-family="Liberation Sans, sans-serif" font-size="15" textLength="18.5" lengthAdjust="spacingAndGlyphs" fill="#1c1c1c" stroke="#1c1c1c" stroke-width="0.3">0.2m</text>
<path d="M141.5,348.5 Q149.4,343.5 157,348.5 Z M149.4,348.5 L149.4,351" stroke="#1c1c1c" stroke-width="1.2" fill="none" stroke-linejoin="round" stroke-linecap="round" />
<path d="M141.8,372.7 L158.1,372.7 M142.5,376.4 l2.5,-3.3 M145.5,376.4 l2.5,-3.3 M148.5,376.4 l2.5,-3.3 M151.5,376.4 l2.5,-3.3 M154.5,376.4 l2.5,-3.3" stroke="#1c1c1c" stroke-width="0.9" fill="none" stroke-linejoin="round" stroke-linecap="round" />
<text transform="translate(25.75,461.75) rotate(90)" font-family="Liberation Serif, serif" font-size="30.5" textLength="67" lengthAdjust="spacingAndGlyphs" fill="#1c1c1c" stroke="#1c1c1c" stroke-width="0.3">BLA93706-1</text>
<g>
<line x1="707.6" y1="136.7" x2="707.6" y2="146.0" stroke="#1c1c1c" stroke-width="1.6" />
<line x1="730.8" y1="136.7" x2="730.8" y2="146.0" stroke="#1c1c1c" stroke-width="1.6" />
<line x1="709.0" y1="199.0" x2="709.0" y2="205.0" stroke="#1c1c1c" stroke-width="1.6" />
<line x1="730.8" y1="199.0" x2="730.8" y2="205.0" stroke="#1c1c1c" stroke-width="1.6" />
<polygon points="690.3,145.8 748.3,145.0 749.3,150.5 691.8,150.5" stroke="#1c1c1c" stroke-width="1.1" fill="#fff" stroke-linejoin="round" />
<rect x="691.8" y="149.5" width="56.5" height="49.5" fill="#fff" stroke="#1c1c1c" stroke-width="1.2"/>
<line x1="705.3" y1="149.5" x2="705.3" y2="199.0" stroke="#1c1c1c" stroke-width="1.0" />
<line x1="717.3" y1="149.5" x2="717.3" y2="199.0" stroke="#1c1c1c" stroke-width="1.0" />
<line x1="729.3" y1="149.5" x2="729.3" y2="199.0" stroke="#1c1c1c" stroke-width="1.0" />
<line x1="737.6" y1="149.5" x2="737.6" y2="199.0" stroke="#1c1c1c" stroke-width="1.0" />
<rect x="717.3" y="150.5" width="12.0" height="47.5" fill="#111"/>
<line x1="691.8" y1="149.5" x2="748.3" y2="149.5" stroke="#1c1c1c" stroke-width="0.8" />
<ellipse cx="698.3" cy="152.2" rx="2.6" ry="1.3" fill="#222"/>
<ellipse cx="742.8" cy="152.2" rx="2.6" ry="1.3" fill="#222"/>
<line x1="691.8" y1="155.0" x2="748.3" y2="155.0" stroke="#1c1c1c" stroke-width="0.8" />
<line x1="717.3" y1="155.0" x2="729.3" y2="155.0" stroke="#777" stroke-width="0.6" />
<ellipse cx="698.3" cy="157.8" rx="2.6" ry="1.3" fill="#222"/>
<ellipse cx="742.8" cy="157.8" rx="2.6" ry="1.3" fill="#222"/>
<line x1="691.8" y1="160.5" x2="748.3" y2="160.5" stroke="#1c1c1c" stroke-width="0.8" />
<line x1="717.3" y1="160.5" x2="729.3" y2="160.5" stroke="#777" stroke-width="0.6" />
<ellipse cx="698.3" cy="163.2" rx="2.6" ry="1.3" fill="#222"/>
<ellipse cx="742.8" cy="163.2" rx="2.6" ry="1.3" fill="#222"/>
<line x1="691.8" y1="166.0" x2="748.3" y2="166.0" stroke="#1c1c1c" stroke-width="0.8" />
<line x1="717.3" y1="166.0" x2="729.3" y2="166.0" stroke="#777" stroke-width="0.6" />
<ellipse cx="698.3" cy="168.8" rx="2.6" ry="1.3" fill="#222"/>
<ellipse cx="742.8" cy="168.8" rx="2.6" ry="1.3" fill="#222"/>
<line x1="691.8" y1="171.5" x2="748.3" y2="171.5" stroke="#1c1c1c" stroke-width="0.8" />
<line x1="717.3" y1="171.5" x2="729.3" y2="171.5" stroke="#777" stroke-width="0.6" />
<ellipse cx="698.3" cy="174.2" rx="2.6" ry="1.3" fill="#222"/>
<ellipse cx="742.8" cy="174.2" rx="2.6" ry="1.3" fill="#222"/>
<line x1="691.8" y1="177.0" x2="748.3" y2="177.0" stroke="#1c1c1c" stroke-width="0.8" />
<line x1="717.3" y1="177.0" x2="729.3" y2="177.0" stroke="#777" stroke-width="0.6" />
<ellipse cx="698.3" cy="179.8" rx="2.6" ry="1.3" fill="#222"/>
<ellipse cx="742.8" cy="179.8" rx="2.6" ry="1.3" fill="#222"/>
<line x1="691.8" y1="182.5" x2="748.3" y2="182.5" stroke="#1c1c1c" stroke-width="0.8" />
<line x1="717.3" y1="182.5" x2="729.3" y2="182.5" stroke="#777" stroke-width="0.6" />
<ellipse cx="698.3" cy="185.2" rx="2.6" ry="1.3" fill="#222"/>
<ellipse cx="742.8" cy="185.2" rx="2.6" ry="1.3" fill="#222"/>
<line x1="691.8" y1="188.0" x2="748.3" y2="188.0" stroke="#1c1c1c" stroke-width="0.8" />
<line x1="717.3" y1="188.0" x2="729.3" y2="188.0" stroke="#777" stroke-width="0.6" />
<ellipse cx="698.3" cy="190.8" rx="2.6" ry="1.3" fill="#222"/>
<ellipse cx="742.8" cy="190.8" rx="2.6" ry="1.3" fill="#222"/>
<line x1="691.8" y1="193.5" x2="748.3" y2="193.5" stroke="#1c1c1c" stroke-width="0.8" />
<line x1="717.3" y1="193.5" x2="729.3" y2="193.5" stroke="#777" stroke-width="0.6" />
<ellipse cx="698.3" cy="196.2" rx="2.6" ry="1.3" fill="#222"/>
<ellipse cx="742.8" cy="196.2" rx="2.6" ry="1.3" fill="#222"/>
</g>
<path d="M646,181.8 L676,181.2 Q700,178 722,178 Q726,179.5 721,182 Q700,188 685,190 Q676,192.5 673,199.2" stroke="#1c1c1c" stroke-width="1.1" fill="#fff" stroke-linejoin="round" stroke-linecap="round" />
<path d="M646,173.5 Q653,175.5 657,178.5 M657,178.5 Q662,175 670,177 Q674,179 676,181.5 M663,177 Q661,180 662.5,182" stroke="#1c1c1c" stroke-width="1.0" fill="none" stroke-linejoin="round" stroke-linecap="round" />
<text transform="translate(653.1,210.7) rotate(90)" font-family="Liberation Serif, serif" font-size="26" textLength="16.6" lengthAdjust="spacingAndGlyphs" fill="#1c1c1c" stroke="#1c1c1c" stroke-width="0.4">OFF</text>
<path d="M700,217.5 Q720,223.5 745,216" stroke="#1c1c1c" stroke-width="1.0" fill="none" stroke-linejoin="round" stroke-linecap="round" />
<polygon points="695.5,216 705,216.5 703.5,220.8" fill="#111"/>
<g>
<line x1="67.3" y1="570.7" x2="67.3" y2="580.0" stroke="#1c1c1c" stroke-width="1.6" />
<line x1="90.5" y1="570.7" x2="90.5" y2="580.0" stroke="#1c1c1c" stroke-width="1.6" />
<line x1="68.7" y1="636.0" x2="68.7" y2="642.0" stroke="#1c1c1c" stroke-width="1.6" />
<line x1="90.5" y1="636.0" x2="90.5" y2="642.0" stroke="#1c1c1c" stroke-width="1.6" />
<polygon points="50.0,579.8 108.3,579.0 109.3,584.5 51.5,584.5" stroke="#1c1c1c" stroke-width="1.1" fill="#fff" stroke-linejoin="round" />
<rect x="51.5" y="583.5" width="56.8" height="52.5" fill="#fff" stroke="#1c1c1c" stroke-width="1.2"/>
<line x1="65.0" y1="583.5" x2="65.0" y2="636.0" stroke="#1c1c1c" stroke-width="1.0" />
<line x1="77.0" y1="583.5" x2="77.0" y2="636.0" stroke="#1c1c1c" stroke-width="1.0" />
<line x1="89.0" y1="583.5" x2="89.0" y2="636.0" stroke="#1c1c1c" stroke-width="1.0" />
<line x1="97.3" y1="583.5" x2="97.3" y2="636.0" stroke="#1c1c1c" stroke-width="1.0" />
<rect x="77.0" y="584.5" width="12.0" height="50.5" fill="#111"/>
<line x1="51.5" y1="583.5" x2="108.3" y2="583.5" stroke="#1c1c1c" stroke-width="0.8" />
<ellipse cx="58.0" cy="586.4" rx="2.6" ry="1.3" fill="#222"/>
<ellipse cx="102.8" cy="586.4" rx="2.6" ry="1.3" fill="#222"/>
<line x1="51.5" y1="589.3" x2="108.3" y2="589.3" stroke="#1c1c1c" stroke-width="0.8" />
<line x1="77.0" y1="589.3" x2="89.0" y2="589.3" stroke="#777" stroke-width="0.6" />
<ellipse cx="58.0" cy="592.2" rx="2.6" ry="1.3" fill="#222"/>
<ellipse cx="102.8" cy="592.2" rx="2.6" ry="1.3" fill="#222"/>
<line x1="51.5" y1="595.2" x2="108.3" y2="595.2" stroke="#1c1c1c" stroke-width="0.8" />
<line x1="77.0" y1="595.2" x2="89.0" y2="595.2" stroke="#777" stroke-width="0.6" />
<ellipse cx="58.0" cy="598.1" rx="2.6" ry="1.3" fill="#222"/>
<ellipse cx="102.8" cy="598.1" rx="2.6" ry="1.3" fill="#222"/>
<line x1="51.5" y1="601.0" x2="108.3" y2="601.0" stroke="#1c1c1c" stroke-width="0.8" />
<line x1="77.0" y1="601.0" x2="89.0" y2="601.0" stroke="#777" stroke-width="0.6" />
<ellipse cx="58.0" cy="603.9" rx="2.6" ry="1.3" fill="#222"/>
<ellipse cx="102.8" cy="603.9" rx="2.6" ry="1.3" fill="#222"/>
<line x1="51.5" y1="606.8" x2="108.3" y2="606.8" stroke="#1c1c1c" stroke-width="0.8" />
<line x1="77.0" y1="606.8" x2="89.0" y2="606.8" stroke="#777" stroke-width="0.6" />
<ellipse cx="58.0" cy="609.8" rx="2.6" ry="1.3" fill="#222"/>
<ellipse cx="102.8" cy="609.8" rx="2.6" ry="1.3" fill="#222"/>
<line x1="51.5" y1="612.7" x2="108.3" y2="612.7" stroke="#1c1c1c" stroke-width="0.8" />
<line x1="77.0" y1="612.7" x2="89.0" y2="612.7" stroke="#777" stroke-width="0.6" />
<ellipse cx="58.0" cy="615.6" rx="2.6" ry="1.3" fill="#222"/>
<ellipse cx="102.8" cy="615.6" rx="2.6" ry="1.3" fill="#222"/>
<line x1="51.5" y1="618.5" x2="108.3" y2="618.5" stroke="#1c1c1c" stroke-width="0.8" />
<line x1="77.0" y1="618.5" x2="89.0" y2="618.5" stroke="#777" stroke-width="0.6" />
<ellipse cx="58.0" cy="621.4" rx="2.6" ry="1.3" fill="#222"/>
<ellipse cx="102.8" cy="621.4" rx="2.6" ry="1.3" fill="#222"/>
<line x1="51.5" y1="624.3" x2="108.3" y2="624.3" stroke="#1c1c1c" stroke-width="0.8" />
<line x1="77.0" y1="624.3" x2="89.0" y2="624.3" stroke="#777" stroke-width="0.6" />
<ellipse cx="58.0" cy="627.2" rx="2.6" ry="1.3" fill="#222"/>
<ellipse cx="102.8" cy="627.2" rx="2.6" ry="1.3" fill="#222"/>
<line x1="51.5" y1="630.2" x2="108.3" y2="630.2" stroke="#1c1c1c" stroke-width="0.8" />
<line x1="77.0" y1="630.2" x2="89.0" y2="630.2" stroke="#777" stroke-width="0.6" />
<ellipse cx="58.0" cy="633.1" rx="2.6" ry="1.3" fill="#222"/>
<ellipse cx="102.8" cy="633.1" rx="2.6" ry="1.3" fill="#222"/>
</g>
<path d="M8.9,619.5 L38,619 Q60,617 85,615 Q89,617 84,619.5 Q65,624 50,626 Q40,630 33,637.5" stroke="#1c1c1c" stroke-width="1.1" fill="#fff" stroke-linejoin="round" stroke-linecap="round" />
<path d="M9,611 Q16,613 20,616 M20,616 Q27,612 35,615 Q38,617 39,619 M26,614 Q25,617 27,619.5" stroke="#1c1c1c" stroke-width="1.0" fill="none" stroke-linejoin="round" stroke-linecap="round" />
<text transform="translate(14.4,649) rotate(90)" font-family="Liberation Serif, serif" font-size="24" textLength="11.8" lengthAdjust="spacingAndGlyphs" fill="#1c1c1c" stroke="#1c1c1c" stroke-width="0.4">ON</text>
<path d="M51,655.5 Q75,661 95,653" stroke="#1c1c1c" stroke-width="1.0" fill="none" stroke-linejoin="round" stroke-linecap="round" />
<polygon points="101,651.5 91,651 93,656" fill="#111"/>
<rect x="643" y="131" width="155" height="102" fill="none" stroke="#1c1c1c" stroke-width="1.1"/>
<rect x="766.5" y="131" width="31.5" height="14.5" fill="#111"/>
<path d="M772,133.5 L794,138.2 L772,143 M780,135.3 L780,141.2" stroke="#fff" stroke-width="1.2" fill="none"/>
<rect x="729.25" y="249" width="32.5" height="15.7" fill="#111"/>
<path d="M735,254 L757,254 M735,254 L735,257 Q735,261.3 741,261.3 Q747,261.3 747,257 L747,254 M747,254 L747,256.5 Q747,260.3 752,260.3 Q757,260.3 757,256.5 L757,254" stroke="#fff" stroke-width="1.3" fill="none"/>
<rect x="2" y="565.3" width="154.8" height="102.7" fill="none" stroke="#1c1c1c" stroke-width="1.1"/>
<rect x="125" y="565" width="32.25" height="14.75" fill="#111"/>
<path d="M136.5,576.3 A11.6,4.1 0 1 1 146.5,576.4" stroke="#fff" stroke-width="1.3" fill="none"/>
<path d="M541.1,740.3 V761.8" stroke="#979797" stroke-width="2.0" fill="none" stroke-linejoin="miter" stroke-linecap="butt"/>
<path d="M547.2,761.8 V740.8 L556.5,755.3 L565.9,740.8 V761.8" stroke="#979797" stroke-width="2.0" fill="none" stroke-linejoin="miter" stroke-linecap="butt"/>
<path d="M572,761.8 V740.8 H580.3 A6.45,6.45 0 0 1 580.3,753.7 H572" stroke="#979797" stroke-width="2.0" fill="none" stroke-linejoin="miter" stroke-linecap="butt"/>
<path d="M606.7,740.8 H592.8 V761.8 H606.7 M592.8,751.3 H605.9" stroke="#979797" stroke-width="2.0" fill="none" stroke-linejoin="miter" stroke-linecap="butt"/>
<path d="M612.4,761.8 V740.8 H620.6 A5.6,5.6 0 0 1 620.6,752 H612.4 M617.5,752 L627.8,761.8" stroke="#979797" stroke-width="2.0" fill="none" stroke-linejoin="miter" stroke-linecap="butt"/>
<path d="M633.9,740.8 V761.8" stroke="#979797" stroke-width="2.0" fill="none" stroke-linejoin="miter" stroke-linecap="butt"/>
<path d="M639.9,740.8 V754.5 A7.1,7.1 0 0 0 654.1,754.5 V740.8" stroke="#979797" stroke-width="2.0" fill="none" stroke-linejoin="miter" stroke-linecap="butt"/>
<path d="M660.6,761.8 V740.8 L669.5,755.3 L678.9,740.8 V761.8" stroke="#979797" stroke-width="2.0" fill="none" stroke-linejoin="miter" stroke-linecap="butt"/>
<path d="M685,740.8 V761.1999999999999 H697.6" stroke="#e1a2a5" stroke-width="2.0" fill="none" stroke-linejoin="miter" stroke-linecap="butt"/>
<circle cx="710.3" cy="751.2" r="9.6" stroke="#e1a2a5" stroke-width="2.0" fill="none"/>
<path d="M726,761.1999999999999 V751.2 H739.2 M725.2,741.6 H759.7 M751.4,741.6 V761.1999999999999" stroke="#e1a2a5" stroke-width="2.0" fill="none" stroke-linejoin="miter" stroke-linecap="butt"/>
</svg>
</body></html>
